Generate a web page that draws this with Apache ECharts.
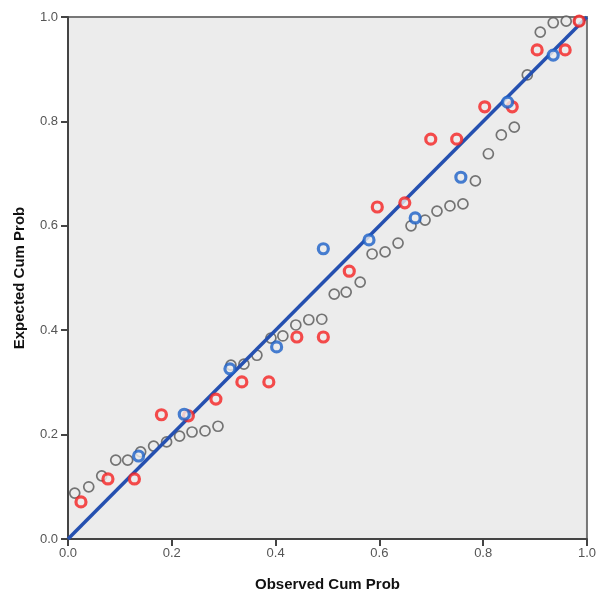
<!DOCTYPE html>
<html>
<head>
<meta charset="utf-8">
<script src="https://cdn.jsdelivr.net/npm/echarts@6/dist/echarts.min.js"></script>
<style>
  html, body { margin: 0; padding: 0; background: #fff; }
  #chart { width: 599px; height: 598px; }
</style>
</head>
<body>
<div id="chart"></div>
<script>
// observed vs expected cumulative probability
const tickLabels = ['0.0', '0.2', '0.4', '0.6', '0.8', '1.0'];

const greyPoints = [
    [0.013, 0.088], [0.040, 0.100], [0.065, 0.121], [0.092, 0.151], [0.115, 0.151],
    [0.140, 0.167], [0.165, 0.178], [0.190, 0.186], [0.215, 0.197], [0.239, 0.205],
    [0.264, 0.207], [0.289, 0.216], [0.314, 0.333], [0.339, 0.335], [0.364, 0.352],
    [0.391, 0.385], [0.414, 0.389], [0.439, 0.410], [0.464, 0.420], [0.489, 0.421],
    [0.513, 0.469], [0.536, 0.473], [0.563, 0.492], [0.586, 0.546], [0.611, 0.550],
    [0.636, 0.567], [0.661, 0.600], [0.688, 0.611], [0.711, 0.628], [0.736, 0.638],
    [0.761, 0.642], [0.785, 0.686], [0.810, 0.738], [0.835, 0.774], [0.860, 0.789],
    [0.885, 0.889], [0.910, 0.971], [0.935, 0.989], [0.960, 0.992], [0.985, 0.992]
];

const redPoints = [
    [0.025, 0.071], [0.077, 0.115], [0.128, 0.115], [0.180, 0.238], [0.232, 0.236],
    [0.285, 0.268], [0.335, 0.301], [0.387, 0.301], [0.441, 0.387], [0.492, 0.387],
    [0.542, 0.513], [0.596, 0.636], [0.649, 0.644], [0.699, 0.766], [0.749, 0.766],
    [0.803, 0.828], [0.856, 0.828], [0.904, 0.937], [0.958, 0.937], [0.985, 0.992]
];

const bluePoints = [
    [0.136, 0.159], [0.224, 0.239], [0.312, 0.326], [0.402, 0.368], [0.492, 0.556],
    [0.580, 0.573], [0.669, 0.615], [0.757, 0.693], [0.847, 0.837], [0.935, 0.927]
];

const refLine = [[0, 0], [1, 1]];

const chart = echarts.init(document.getElementById('chart'));

function valueAxis(name, isY) {
    return {
        type: 'value',
        min: 0,
        max: 1,
        interval: 0.2,
        name: name,
        nameLocation: 'middle',
        nameGap: isY ? 41 : 38,
        nameTextStyle: {
            fontFamily: 'Liberation Sans',
            fontWeight: 'bold',
            fontSize: 15,
            color: '#111'
        },
        axisLine: { show: true, lineStyle: { color: '#444', width: 2 } },
        axisTick: { show: true, length: 7, lineStyle: { color: '#444', width: 2 } },
        axisLabel: {
            margin: isY ? 10 : 8,
            fontFamily: 'Liberation Sans',
            fontSize: 13,
            color: '#555',
            formatter: v => tickLabels[Math.round(v * 5)]
        },
        splitLine: { show: false }
    };
}

function ringStyle(color, width) {
    return { color: '#ececec', borderColor: color, borderWidth: width };
}

chart.setOption({
    animation: false,
    grid: {
        left: 68,
        right: 9,
        top: 17,
        bottom: 59,
        show: true,
        backgroundColor: '#ececec',
        borderColor: '#777',
        borderWidth: 2
    },
    xAxis: valueAxis('Observed Cum Prob', false),
    yAxis: valueAxis('Expected Cum Prob', true),
    series: [
        {
            type: 'scatter',
            data: greyPoints,
            symbol: 'circle',
            symbolSize: 10,
            itemStyle: ringStyle('#555', 1.7),
            z: 2
        },
        {
            type: 'line',
            data: refLine,
            showSymbol: false,
            lineStyle: { color: '#2550b0', width: 3.5 },
            z: 3
        },
        {
            type: 'scatter',
            data: redPoints,
            symbol: 'circle',
            symbolSize: 10,
            itemStyle: ringStyle('#f52222', 3.2),
            z: 4
        },
        {
            type: 'scatter',
            data: bluePoints,
            symbol: 'circle',
            symbolSize: 10,
            itemStyle: ringStyle('#1c60c8', 3.2),
            z: 4
        }
    ]
});
</script>
</body>
</html>
